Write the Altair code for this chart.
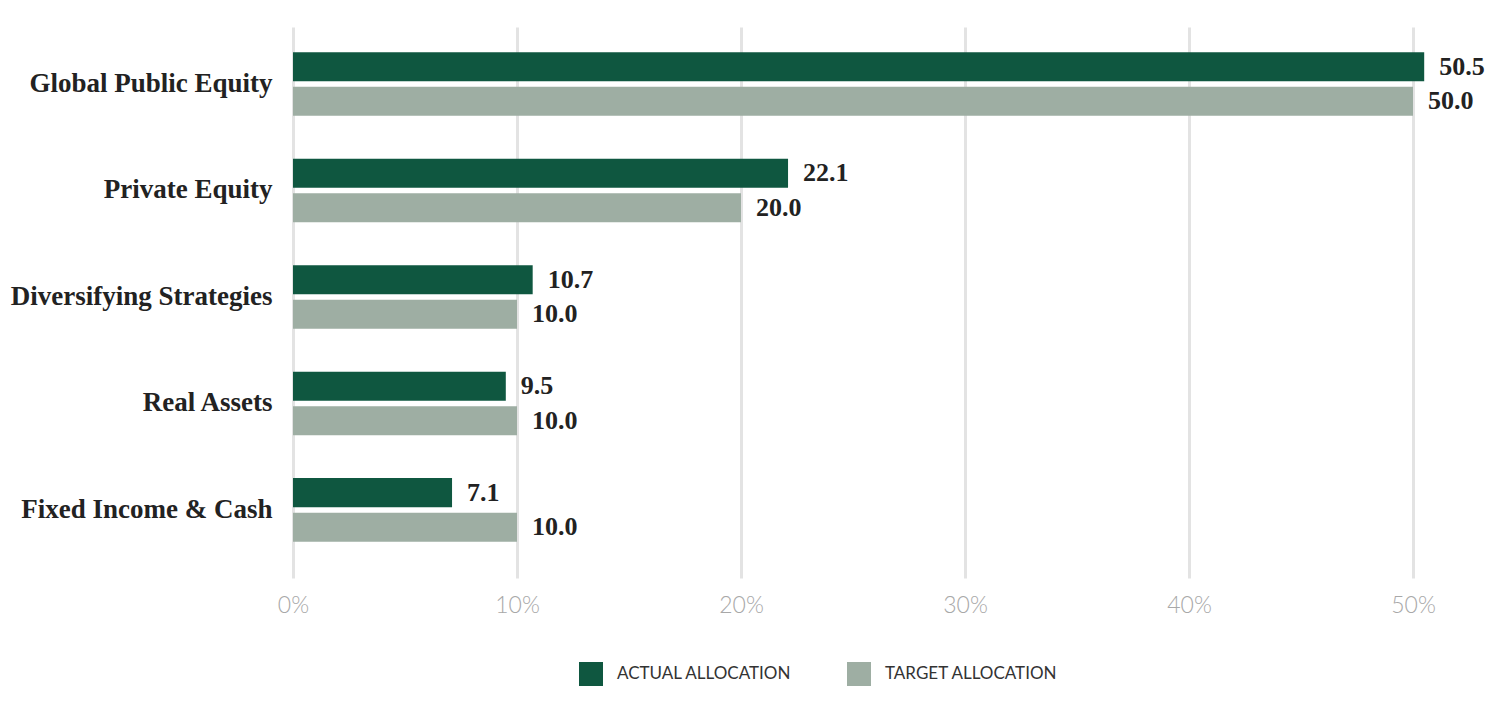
import altair as alt
import pandas as pd

categories = ["Global Public Equity", "Private Equity", "Diversifying Strategies",
              "Real Assets", "Fixed Income & Cash"]
actual = [50.5, 22.1, 10.7, 9.5, 7.1]
target = [50.0, 20.0, 10.0, 10.0, 10.0]
series = ["ACTUAL ALLOCATION", "TARGET ALLOCATION"]
colors = ["#0F5740", "#9EAEA3"]

rows = []
for c, a, t in zip(categories, actual, target):
    rows.append({"category": c, "series": series[0], "value": a})
    rows.append({"category": c, "series": series[1], "value": t})
df = pd.DataFrame(rows)

y_enc = alt.Y("category:N", sort=categories, title=None,
              scale=alt.Scale(paddingInner=0, paddingOuter=0.087, align=0.2),
              axis=alt.Axis(domain=False, ticks=False, labelFont="Liberation Serif",
                            labelFontWeight="bold", labelFontSize=27, labelColor="#222222",
                            labelPadding=21, grid=False, labelLimit=400))
yoff = alt.YOffset("series:N", sort=series,
                   scale=alt.Scale(paddingInner=0.16, paddingOuter=0.62))
x_enc = alt.X("value:Q", title=None,
              scale=alt.Scale(domain=[0, 52.5], nice=False),
              axis=alt.Axis(values=[0, 10, 20, 30, 40, 50], labelExpr="datum.value + '%'",
                            domain=False, ticks=False, grid=True, gridColor="#E3E3E3",
                            gridWidth=3, labelFont="Lato", labelFontWeight=300,
                            labelFontSize=23, labelColor="#A8A8A8", labelPadding=16,
                            labelFlush=False))

base = alt.Chart(df)
bars = base.mark_bar().encode(
    y=y_enc, yOffset=yoff, x=x_enc,
    color=alt.Color("series:N", sort=series,
                    scale=alt.Scale(domain=series, range=colors),
                    legend=alt.Legend(title=None, orient="none", legendX=286, legendY=635,
                                      direction="horizontal",
                                      symbolType="square", symbolSize=576,
                                      symbolStrokeWidth=0, labelFont="Lato",
                                      labelFontSize=17, labelColor="#333333",
                                      labelLimit=400, columnPadding=55, labelOffset=14)),
)
texts = base.mark_text(align="left", baseline="middle", dx=15, font="Liberation Serif",
                       fontWeight="bold", fontSize=26, color="#222222").encode(
    y=alt.Y("category:N", sort=categories), yOffset=yoff, x="value:Q",
    text=alt.Text("value:Q", format=".1f"),
)

chart = alt.layer(bars, texts).properties(
    width=1176, height=551,
    padding={"left": 2, "top": 19, "right": 5, "bottom": 5},
).configure_view(stroke=None)

chart.save("out.html", embed_options={"renderer": "svg", "actions": False})
